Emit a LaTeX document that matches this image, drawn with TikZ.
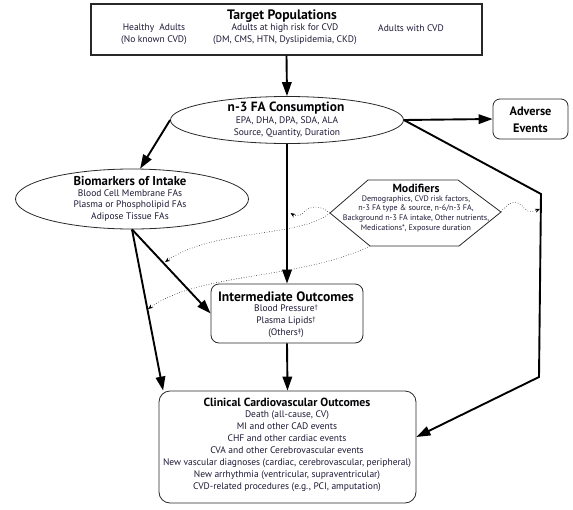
\documentclass[tikz,border=0pt]{standalone}
\usepackage{fontspec}
\setmainfont{PT Sans}
\usetikzlibrary{arrows.meta,calc,shapes.geometric}
\definecolor{txt}{RGB}{28,24,52}
\definecolor{edge}{RGB}{40,40,40}
\newcommand{\sdag}[1]{{\fontsize{6.5}{6.5}\selectfont\raisebox{1.4pt}{#1}}}
\newcommand{\tfs}[1]{\fontsize{#1}{#1}\selectfont\bfseries}
\begin{document}
\begin{tikzpicture}[x=1pt,y=-1pt,
  ttl/.style={font=\tfs{11.5}, text=black!90!txt, inner sep=0},
  bdy/.style={font=\fontsize{9.5}{12}\selectfont, text=txt, align=center, inner sep=0},
  smallbdy/.style={font=\fontsize{8}{9.7}\selectfont, text=txt, align=center, inner sep=0},
  sqbox/.style={draw=edge, line width=1.1pt, rectangle, inner sep=0},
  rbox/.style={draw=edge, line width=0.8pt, rectangle, rounded corners=8pt, inner sep=0},
  ell/.style={draw=edge, line width=0.8pt, ellipse, inner sep=0},
  hexline/.style={draw=edge, line width=0.8pt, line join=miter},
  bigarrow/.style={line width=1.9pt, -{Triangle[length=14pt,width=9.5pt]}},
  dotarrow/.style={line width=0.55pt, dotted, -{Stealth[length=5pt,width=4pt]}}
]
\useasboundingbox (0,0) rectangle (573,509);

% ---- boxes ----
\node[sqbox, minimum width=391pt, minimum height=51pt] (target) at (286.5,29.5) {};
\node[ttl, font=\tfs{13.7}] (targetT) at (282,16) {Target Populations};
\node[bdy] (pop1) at (154,34) {Healthy~ Adults\\(No known CVD)};
\node[bdy] (pop2) at (285,34) {Adults at high risk for CVD\\(DM, CMS, HTN, Dyslipidemia, CKD)};
\node[bdy] (pop3) at (411,28) {Adults with CVD};

\node[ell, minimum width=233pt, minimum height=47pt] (cons) at (287,120) {};
\node[ttl, font=\tfs{13.4}] (consT) at (286,108) {n-3 FA Consumption};
\node[bdy] (consB) at (287,127) {EPA, DHA, DPA, SDA, ALA\\Source, Quantity, Duration};

\node[rbox, rounded corners=7pt, minimum width=75pt, minimum height=40pt] (adv) at (530.5,119) {};
\node[ttl, align=center, font=\fontsize{12.3}{16.5}\selectfont\bfseries] (advT) at (530.5,119.5) {Adverse\\Events};

\node[ell, minimum width=233pt, minimum height=60pt] (bio) at (132,199) {};
\node[ttl, font=\tfs{12.8}] (bioT) at (130,181) {Biomarkers of Intake};
\node[bdy, font=\fontsize{9.5}{11.5}\selectfont] (bioB) at (130,205.5) {Blood Cell Membrane FAs\\Plasma or Phospholipid FAs\\Adipose Tissue FAs};

\coordinate (mL) at (330,213);
\coordinate (mTL) at (368,180);
\coordinate (mTR) at (458,180);
\coordinate (mR) at (501,212);
\coordinate (mBR) at (459,246);
\coordinate (mBL) at (370,246);
\draw[hexline] (mL) -- (mTL) -- (mTR) -- (mR) -- (mBR) -- (mBL) -- cycle;
\node[ttl, font=\tfs{11.8}] (modT) at (416,188.5) {Modifiers};
\node[smallbdy] (modB) at (416,213.5) {Demographics, CVD risk factors,\\n-3 FA type \& source, n-6/n-3 FA,\\Background n-3 FA intake, Other nutrients,\\Medications*, Exposure duration};

\node[rbox, minimum width=152pt, minimum height=59pt] (inter) at (287,313.5) {};
\node[ttl, font=\tfs{13.6}] (interT) at (286,297) {Intermediate Outcomes};
\node[bdy] (interB) at (286,321) {Blood Pressure\sdag{†}\\Plasma Lipids\sdag{†}\\(Others\sdag{‡})};

\node[rbox, rounded corners=11pt, minimum width=257pt, minimum height=112pt] (clin) at (287.5,447) {};
\node[ttl, font=\tfs{11.8}] (clinT) at (287,402) {Clinical Cardiovascular Outcomes};
\node[bdy] (clinB) at (287,451) {Death (all-cause, CV)\\MI and other CAD events\\CHF and other cardiac events\\CVA and other Cerebrovascular events\\New vascular diagnoses (cardiac, cerebrovascular, peripheral)\\New arrhythmia (ventricular, supraventricular)\\CVD-related procedures (e.g., PCI, amputation)};

% ---- main arrows ----
\draw[bigarrow] (target.south) -- (cons.north);
\draw[bigarrow] (cons.east) -- (adv.west);
\draw[bigarrow] (cons.west) -- (bio.75);
\draw[bigarrow] (cons.south) -- (inter.north);
\draw[bigarrow] (inter.south) -- (clin.north);
\draw[bigarrow] (bio.south) -- (inter.west);
\draw[bigarrow] (bio.south) -- ($(clin.north west)+(4.5,0)$);
\coordinate (rc1) at (541,194);
\coordinate (rc2) at (539,377);
\draw[bigarrow, line join=miter] (cons.east) -- (rc1) -- (rc2) -- ($(clin.east)+(0,-10)$);

% ---- dotted modifier connectors ----
\coordinate (tip1) at (290.5,213);
\coordinate (tip2) at (540,209);
\coordinate (tip3) at (165,262);
\coordinate (tip4) at (148,309);
\draw[dotarrow] (mL) .. controls (320,205) and (310,205) .. (303,213) .. controls (299,217) and (295,216) .. (tip1);
\draw[dotarrow] (mR) .. controls (510,200) and (518,200) .. (524,208) .. controls (528,213) and (532,212) .. (tip2);
\draw[dotarrow] (mL) .. controls (300,238) and (215,228) .. (tip3);
\draw[dotarrow] (mBL) .. controls (300,280) and (200,272) .. (tip4);
\end{tikzpicture}
\end{document}
